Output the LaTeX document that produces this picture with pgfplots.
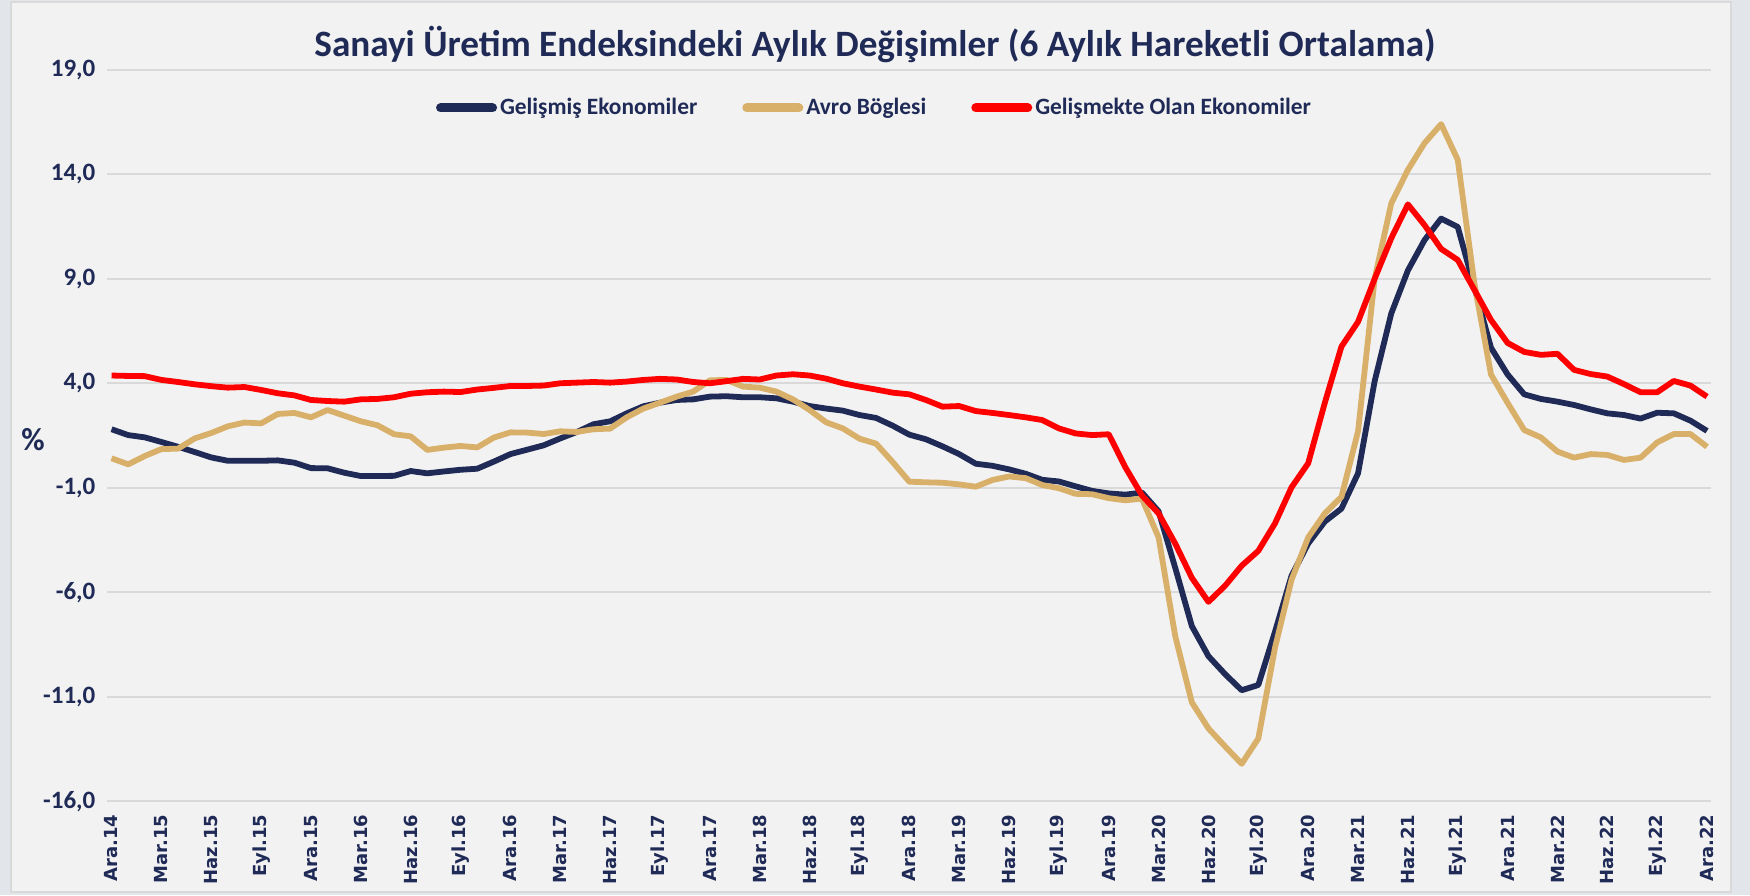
\documentclass[border=0pt]{standalone}
\usepackage{fontspec}
\setmainfont{Carlito}
\newfontfamily\dejavu{DejaVu Sans}
\usepackage{pgfplots}
\usepackage{pgfplotstable}
\pgfplotsset{compat=1.18}

\definecolor{navy}{HTML}{1F2A56}
\definecolor{gold}{HTML}{D9B06A}
\definecolor{bg}{HTML}{F2F2F2}
\definecolor{gridc}{HTML}{D9D9D9}
\definecolor{outer}{HTML}{E2E5EA}

% month index (0 = Ara.14), gelismis, avro, gelismekte
\pgfplotstableread{
m gel avro gelm
0 1.80 0.41 4.37
1 1.52 0.12 4.35
2 1.41 0.52 4.34
3 1.19 0.85 4.16
4 0.96 0.87 4.06
5 0.71 1.36 3.95
6 0.45 1.62 3.86
7 0.29 1.94 3.79
8 0.29 2.12 3.82
9 0.29 2.08 3.68
10 0.31 2.53 3.52
11 0.20 2.58 3.42
12 -0.06 2.37 3.20
13 -0.07 2.72 3.15
14 -0.28 2.45 3.12
15 -0.44 2.18 3.23
16 -0.44 1.99 3.25
17 -0.43 1.56 3.33
18 -0.20 1.46 3.50
19 -0.31 0.81 3.57
20 -0.22 0.92 3.60
21 -0.14 1.00 3.58
22 -0.09 0.93 3.70
23 0.25 1.40 3.78
24 0.61 1.65 3.87
25 0.82 1.64 3.87
26 1.03 1.57 3.89
27 1.36 1.70 4.00
28 1.67 1.67 4.03
29 2.04 1.80 4.06
30 2.18 1.83 4.03
31 2.56 2.37 4.08
32 2.90 2.79 4.16
33 3.07 3.07 4.21
34 3.20 3.36 4.18
35 3.23 3.60 4.06
36 3.36 4.14 4.00
37 3.38 4.16 4.10
38 3.33 3.84 4.21
39 3.33 3.79 4.18
40 3.28 3.60 4.37
41 3.12 3.23 4.43
42 2.91 2.72 4.37
43 2.79 2.13 4.22
44 2.69 1.84 4.00
45 2.48 1.35 3.84
46 2.34 1.11 3.70
47 1.97 0.23 3.55
48 1.54 -0.71 3.47
49 1.32 -0.74 3.20
50 0.98 -0.76 2.88
51 0.61 -0.84 2.91
52 0.15 -0.95 2.67
53 0.05 -0.63 2.58
54 -0.12 -0.46 2.48
55 -0.33 -0.54 2.37
56 -0.62 -0.87 2.24
57 -0.70 -1.02 1.84
58 -0.93 -1.29 1.60
59 -1.15 -1.31 1.52
60 -1.27 -1.50 1.56
61 -1.33 -1.60 -0.02
62 -1.23 -1.52 -1.37
63 -2.13 -3.38 -2.23
64 -4.83 -8.10 -3.67
65 -7.62 -11.27 -5.31
66 -9.06 -12.52 -6.46
67 -9.92 -13.38 -5.69
68 -10.69 -14.21 -4.73
69 -10.44 -13.00 -4.02
70 -7.90 -8.67 -2.71
71 -5.21 -5.40 -0.98
72 -3.67 -3.38 0.17
73 -2.62 -2.23 3.06
74 -2.00 -1.44 5.75
75 -0.31 1.70 6.94
76 4.10 9.00 9.00
77 7.34 12.61 10.94
78 9.40 14.21 12.56
79 10.85 15.49 11.57
80 11.88 16.40 10.43
81 11.48 14.69 9.90
82 8.60 8.78 8.47
83 5.70 4.42 7.03
84 4.42 3.06 5.93
85 3.47 1.76 5.50
86 3.25 1.41 5.36
87 3.12 0.73 5.41
88 2.96 0.44 4.64
89 2.75 0.61 4.44
90 2.56 0.57 4.32
91 2.48 0.33 3.96
92 2.31 0.44 3.57
93 2.59 1.17 3.57
94 2.56 1.57 4.11
95 2.21 1.57 3.89
96 1.72 0.96 3.36
}\data

\begin{document}
\begin{tikzpicture}
\fill[outer] (0,0) rectangle (875pt,447.5pt);
\fill[bg, draw=gridc, line width=0.6pt] (5.5pt,1.5pt) rectangle (865.5pt,446.5pt);
\useasboundingbox (0,0) rectangle (875pt,447.5pt);

\begin{axis}[
    at={(53.7pt,46.9pt)}, anchor=south west,
    scale only axis, width=801.9pt, height=365.7pt,
    xmin=-0.25, xmax=96.25, ymin=-16, ymax=19,
    axis line style={draw=none},
    major tick length=0pt,
    xtick={0,3,...,96},
    xticklabels={Ara.14,Mar.15,Haz.15,Eyl.15,Ara.15,Mar.16,Haz.16,Eyl.16,Ara.16,Mar.17,Haz.17,Eyl.17,Ara.17,Mar.18,Haz.18,Eyl.18,Ara.18,Mar.19,Haz.19,Eyl.19,Ara.19,Mar.20,Haz.20,Eyl.20,Ara.20,Mar.21,Haz.21,Eyl.21,Ara.21,Mar.22,Haz.22,Eyl.22,Ara.22},
    xticklabel style={font=\dejavu\bfseries\fontsize{9}{10}\selectfont, text=navy, rotate=90, anchor=east, xshift=-3.3pt},
    ytick={-16,-11,...,19},
    ymajorgrids, major grid style={gridc, line width=1pt},
    /pgf/number format/assume math mode=true,
    yticklabel={\pgfmathprintnumber[fixed,fixed zerofill,precision=1,use comma]{\tick}},
    yticklabel style={font=\bfseries\fontsize{12.5}{14}\selectfont, text=navy, xshift=-2.5pt},
    ylabel={\%},
    ylabel style={rotate=-90, at={(axis description cs:-0.0464,0.495)}, anchor=center, font=\bfseries\fontsize{16}{18}\selectfont, text=navy},
    legend columns=3,
    legend style={draw=none, fill=none, at={(axis description cs:0.4786,0.9478)}, anchor=center,
        font=\bfseries\fontsize{11.7}{13}\selectfont, text=navy,
        /tikz/every even column/.append style={column sep=21pt},
        nodes={inner sep=1.5pt}},
    legend image code/.code={\draw[#1, line width=4.5pt, line cap=round] (1pt,0pt) -- (27pt,0pt);},
    every axis plot/.append style={line width=2.9pt, line join=round, mark=none},
]
\addplot[navy] table[x=m, y=gel] {\data};
\addplot[gold] table[x=m, y=avro] {\data};
\addplot[red] table[x=m, y=gelm] {\data};
\legend{Gelişmiş Ekonomiler, Avro Böglesi, Gelişmekte Olan Ekonomiler}
\end{axis}

\node[font=\bfseries\fontsize{18.6}{21}\selectfont, text=navy] at (437.5pt,425pt)
  {Sanayi Üretim Endeksindeki Aylık Değişimler (6 Aylık Hareketli Ortalama)};
\end{tikzpicture}
\end{document}
